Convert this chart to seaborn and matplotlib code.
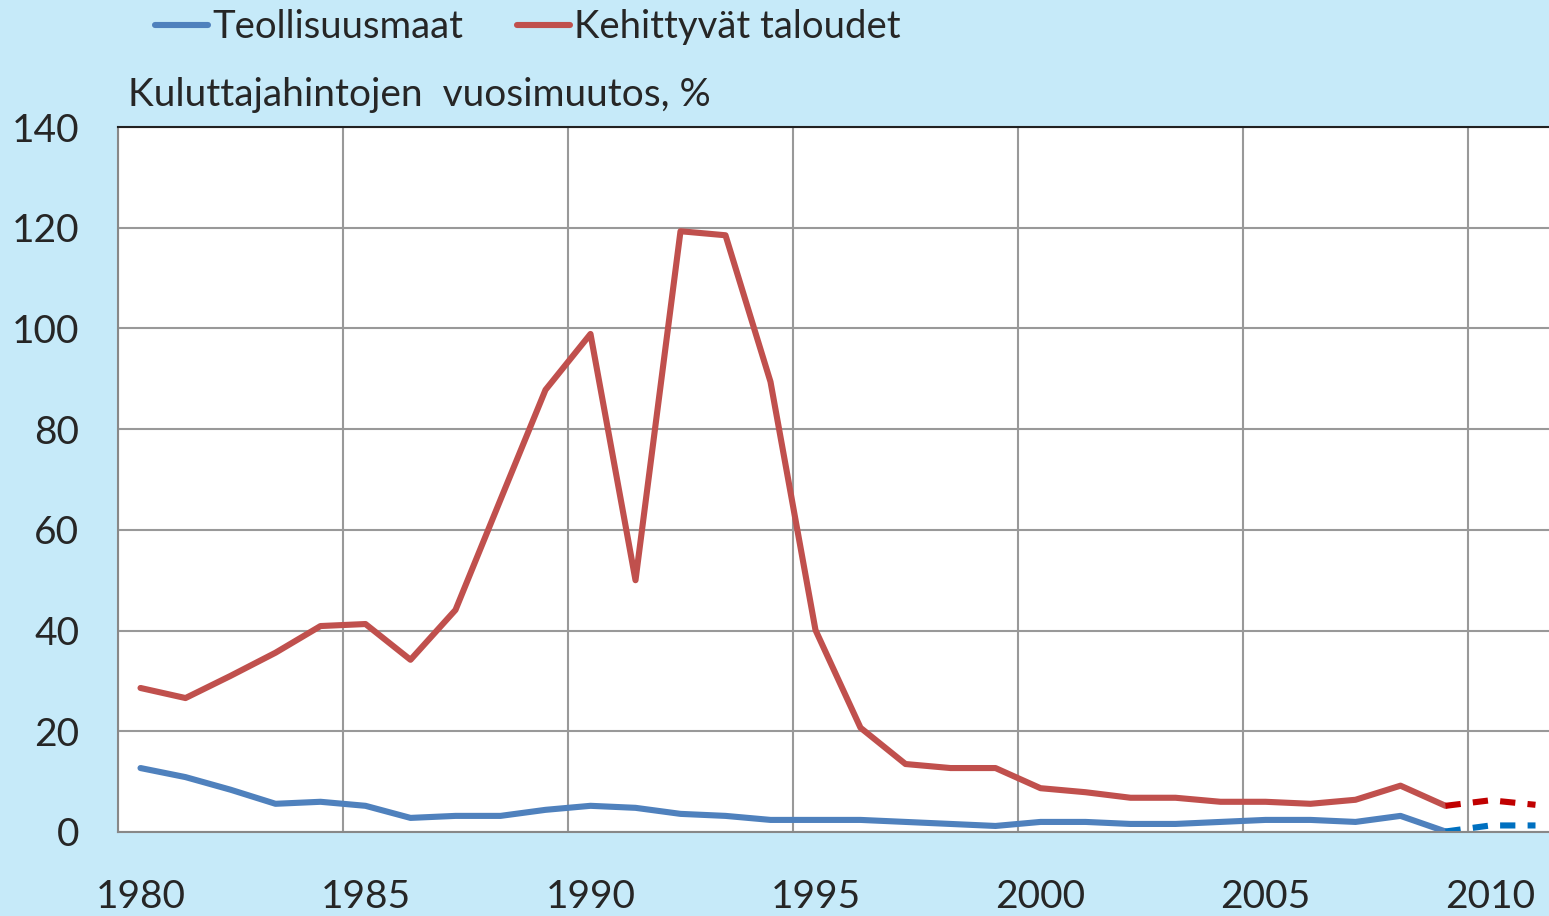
import numpy as np
import pandas as pd
import matplotlib
matplotlib.use("Agg")
import matplotlib.pyplot as plt
import seaborn as sns

# Kuluttajahintojen vuosimuutos, %
years = list(range(1980, 2010))
teollisuusmaat = [12.7, 10.9, 8.4, 5.6, 6.0, 5.2, 2.8, 3.2, 3.2, 4.4,
                  5.2, 4.8, 3.6, 3.2, 2.4, 2.4, 2.4, 2.0, 1.6, 1.2,
                  2.0, 2.0, 1.6, 1.6, 2.0, 2.4, 2.4, 2.0, 3.2, 0.1]
kehittyvat = [28.6, 26.6, 31.0, 35.6, 40.9, 41.3, 34.2, 44.1, 66.0, 87.8,
              98.9, 50.0, 119.3, 118.5, 89.4, 40.1, 20.7, 13.5, 12.7, 12.7,
              8.7, 7.9, 6.8, 6.8, 6.0, 6.0, 5.6, 6.4, 9.2, 5.2]
# ennusteet
ennuste_vuodet = [2009, 2010, 2011]
teollisuusmaat_ennuste = [0.1, 1.3, 1.3]
kehittyvat_ennuste = [5.2, 6.3, 5.4]

df = pd.DataFrame({"vuosi": years, "Teollisuusmaat": teollisuusmaat,
                   "Kehittyvät taloudet": kehittyvat})
df_e = pd.DataFrame({"vuosi": ennuste_vuodet, "Teollisuusmaat": teollisuusmaat_ennuste,
                     "Kehittyvät taloudet": kehittyvat_ennuste})

sns.set_style("white")
plt.rcParams['font.family'] = ['Liberation Sans Narrow', 'Lato', 'DejaVu Sans']

bg = '#c6eaf9'
fig = plt.figure(figsize=(15.49, 9.16), dpi=100, facecolor=bg)

ax = fig.add_axes([118 / 1549, 1 - 832 / 916, 1 - 118 / 1549, (832 - 127) / 916])
ax.set_facecolor('white')

sns.lineplot(data=df, x='vuosi', y='Teollisuusmaat', ax=ax, color='#4f81bd',
             linewidth=4.4, label='Teollisuusmaat')
sns.lineplot(data=df, x='vuosi', y='Kehittyvät taloudet', ax=ax, color='#c0504d',
             linewidth=4.4, label='Kehittyvät taloudet')
sns.lineplot(data=df_e, x='vuosi', y='Teollisuusmaat', ax=ax, color='#0070c0',
             linewidth=4.4, linestyle=(0, (2.5, 2)), legend=False)
sns.lineplot(data=df_e, x='vuosi', y='Kehittyvät taloudet', ax=ax, color='#c00000',
             linewidth=4.4, linestyle=(0, (2.5, 2)), legend=False)

ax.set_xlim(1979.5, 2011.3)
ax.set_ylim(0, 140)
ax.set_yticks(range(0, 141, 20))
ax.set_xticks(range(1980, 2011, 5))
ax.set_xticks(np.arange(1979.5, 2011, 5), minor=True)
ax.tick_params(axis='x', which='major', length=0, pad=34, labelsize=28)
ax.tick_params(axis='x', which='minor', length=11, width=1.5, color='#888888')
ax.tick_params(axis='y', length=14, width=1.5, color='#888888', labelsize=28, pad=14)
ax.grid(False)
ax.xaxis.grid(True, which='minor', color='#999999', linewidth=1.5)
ax.yaxis.grid(True, which='major', color='#999999', linewidth=1.5)
ax.set_axisbelow(True)
ax.set_xlabel('')
ax.set_ylabel('')
for s in ['left', 'bottom']:
    ax.spines[s].set_color('#888888')
    ax.spines[s].set_linewidth(1.5)
ax.spines['top'].set_color('#222222')
ax.spines['top'].set_linewidth(1.5)
ax.spines['right'].set_visible(False)

fig.text(128 / 1549, 1 - 95 / 916, 'Kuluttajahintojen  vuosimuutos, %',
         fontsize=28, ha='left', va='center')

leg = ax.legend(loc='center left', bbox_to_anchor=(155 / 1549, 1 - 27 / 916),
                bbox_transform=fig.transFigure, ncol=2, frameon=False,
                fontsize=27.5, handlelength=1.4, handletextpad=0.1, columnspacing=1.4,
                borderaxespad=0, borderpad=0)
for h in leg.get_lines():
    h.set_linewidth(4.4)

fig.savefig('out.png', dpi=100, facecolor=bg)
